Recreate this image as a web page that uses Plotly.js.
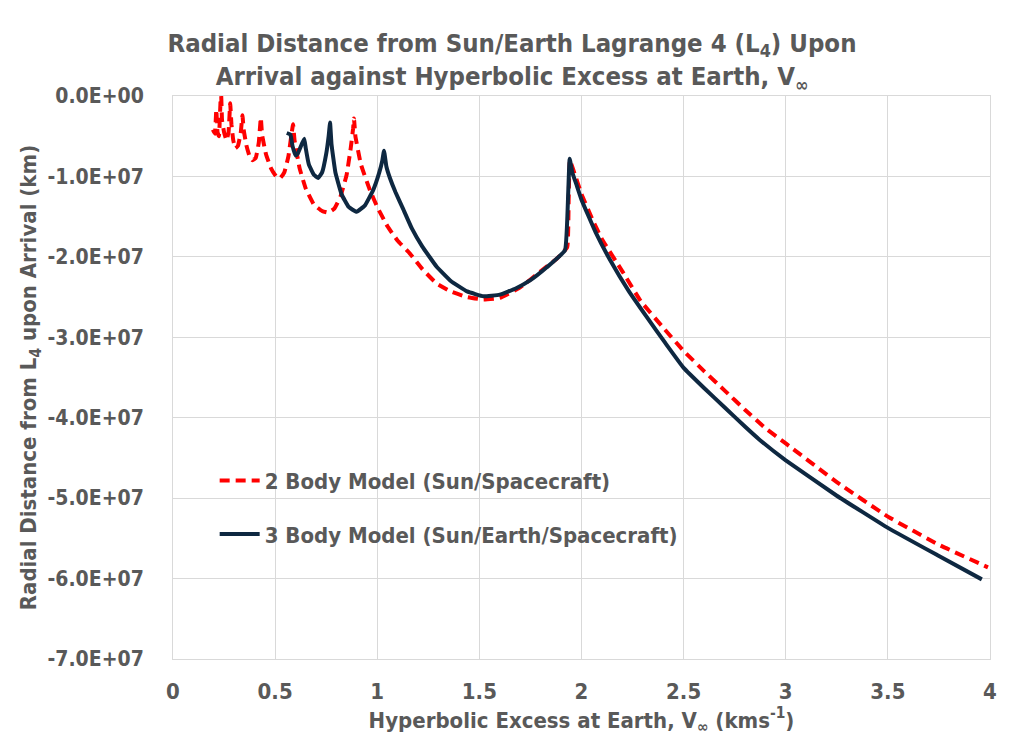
<!DOCTYPE html>
<html>
<head>
<meta charset="utf-8">
<script src="https://cdn.plot.ly/plotly-3.0.1.min.js"></script>
<style>
  body { margin: 0; background: #fff; }
  #chart { width: 1024px; height: 743px; outline: 1px solid #d9d9d9; outline-offset: -1px; }
</style>
</head>
<body>
<div id="chart"></div>
<script>
// 2 body model (Sun/Spacecraft) - V_inf (km/s) vs radial distance from L4 (km)
var vinf2 = [0.195, 0.205, 0.212, 0.218, 0.225, 0.233, 0.236, 0.240, 0.250, 0.262, 0.272, 0.280,
  0.286, 0.295, 0.305, 0.318, 0.332, 0.340, 0.346, 0.360, 0.375, 0.390, 0.405, 0.420, 0.430,
  0.436, 0.455, 0.480, 0.505, 0.525, 0.545, 0.565, 0.580, 0.588, 0.595, 0.620, 0.650, 0.690,
  0.730, 0.760, 0.790, 0.820, 0.850, 0.870, 0.882, 0.886, 0.893, 0.920, 0.964, 1.000, 1.050,
  1.100, 1.160, 1.220, 1.290, 1.360, 1.440, 1.520, 1.600, 1.700, 1.800, 1.880, 1.930, 1.937,
  1.943, 1.960, 2.000, 2.056, 2.100, 2.200, 2.290, 2.400, 2.500, 2.600, 2.700, 2.800, 2.900,
  3.000, 3.250, 3.500, 3.750, 3.990];
var dist2 = [-0.42e7, -0.47e7, -0.17e7, -0.45e7, -0.50e7, -0.05e7, 0.0, -0.30e7, -0.45e7, -0.55e7, -0.45e7, -0.09e7,
  -0.35e7, -0.55e7, -0.65e7, -0.62e7, -0.45e7, -0.24e7, -0.42e7, -0.62e7, -0.75e7, -0.80e7, -0.77e7, -0.58e7, -0.27e7,
  -0.48e7, -0.72e7, -0.90e7, -1.00e7, -1.02e7, -0.95e7, -0.75e7, -0.48e7, -0.35e7, -0.55e7, -0.90e7, -1.15e7, -1.35e7,
  -1.43e7, -1.45e7, -1.40e7, -1.25e7, -0.98e7, -0.65e7, -0.40e7, -0.28e7, -0.50e7, -0.85e7, -1.17e7, -1.38e7, -1.62e7,
  -1.80e7, -1.96e7, -2.15e7, -2.33e7, -2.43e7, -2.50e7, -2.53e7, -2.51e7, -2.38e7, -2.18e7, -2.02e7, -1.88e7, -1.30e7,
  -0.80e7, -0.92e7, -1.22e7, -1.55e7, -1.78e7, -2.18e7, -2.55e7, -2.88e7, -3.17e7, -3.42e7, -3.66e7, -3.90e7, -4.13e7,
  -4.32e7, -4.80e7, -5.23e7, -5.58e7, -5.86e7];

// 3 body model (Sun/Earth/Spacecraft)
var vinf3 = [0.557, 0.575, 0.585, 0.600, 0.610, 0.630, 0.643, 0.650, 0.665, 0.690, 0.711, 0.730,
  0.750, 0.762, 0.769, 0.776, 0.795, 0.825, 0.860, 0.899, 0.940, 0.980, 1.010, 1.025, 1.033,
  1.045, 1.062, 1.090, 1.126, 1.170, 1.220, 1.290, 1.360, 1.440, 1.520, 1.600, 1.680, 1.750,
  1.830, 1.919, 1.935, 1.942, 1.955, 1.975, 2.000, 2.070, 2.140, 2.230, 2.320, 2.410, 2.500,
  2.600, 2.700, 2.800, 2.870, 3.000, 3.250, 3.500, 3.750, 3.960];
var dist3 = [-0.46e7, -0.48e7, -0.62e7, -0.74e7, -0.72e7, -0.60e7, -0.53e7, -0.65e7, -0.85e7, -0.98e7, -1.02e7, -0.95e7,
  -0.72e7, -0.50e7, -0.33e7, -0.60e7, -0.95e7, -1.22e7, -1.38e7, -1.44e7, -1.36e7, -1.17e7, -0.95e7, -0.80e7, -0.68e7,
  -0.88e7, -1.02e7, -1.20e7, -1.40e7, -1.65e7, -1.87e7, -2.12e7, -2.30e7, -2.43e7, -2.49e7, -2.47e7, -2.39e7, -2.29e7,
  -2.13e7, -1.92e7, -1.20e7, -0.78e7, -0.95e7, -1.10e7, -1.29e7, -1.70e7, -2.04e7, -2.42e7, -2.75e7, -3.07e7, -3.38e7,
  -3.63e7, -3.87e7, -4.11e7, -4.27e7, -4.53e7, -4.97e7, -5.37e7, -5.72e7, -6.01e7];

var xTicks = [0, 0.5, 1, 1.5, 2, 2.5, 3, 3.5, 4];
var xTickText = ['0', '0.5', '1', '1.5', '2', '2.5', '3', '3.5', '4'];
var yTicks = [0, -1e7, -2e7, -3e7, -4e7, -5e7, -6e7, -7e7];
var yTickText = ['0.0E+00', '-1.0E+07', '-2.0E+07', '-3.0E+07', '-4.0E+07', '-5.0E+07', '-6.0E+07', '-7.0E+07'];

var FONT = '"Liberation Sans Narrow", "DejaVu Sans Condensed", Roboto, sans-serif';
var GREY = '#595959';

var twoBody = {
  type: 'scatter', mode: 'lines',
  x: vinf2, y: dist2,
  name: '<b>2 Body Model (Sun/Spacecraft)</b>',
  legendgroup: 'a',
  line: { color: '#ff0000', width: 4, dash: '10px,6px', shape: 'spline', smoothing: 0.3 }
};
var threeBody = {
  type: 'scatter', mode: 'lines',
  x: vinf3, y: dist3,
  name: '<b>3 Body Model (Sun/Earth/Spacecraft)</b>',
  legendgroup: 'b',
  line: { color: '#0e2841', width: 4, shape: 'spline', smoothing: 0.3 }
};

var layout = {
  width: 1024,
  height: 743,
  margin: { l: 173, r: 34, t: 96, b: 84 },
  paper_bgcolor: '#fff',
  plot_bgcolor: '#fff',
  font: { family: FONT, color: GREY, size: 20 },
  title: {
    text: '<b>Radial Distance from Sun/Earth Lagrange 4 (L<sub>4</sub>) Upon<br>Arrival against Hyperbolic Excess at Earth, V<sub>∞</sub></b>',
    font: { family: FONT, size: 25.5, color: GREY },
    x: 0.5, xref: 'container',
    yref: 'container', y: 0.93, yanchor: 'middle'
  },
  xaxis: {
    range: [0, 4],
    tickvals: xTicks,
    ticktext: xTickText.map(function (t) { return '<b>' + t + '</b>'; }),
    showgrid: true, gridcolor: '#d9d9d9', gridwidth: 1,
    zeroline: false,
    showline: true, mirror: true, linecolor: '#d9d9d9', linewidth: 1,
    ticks: '', ticklabelstandoff: 13,
    tickfont: { size: 22, color: GREY },
    title: {
      text: '<b>Hyperbolic Excess at Earth, V<sub>∞</sub> (kms<sup>-1</sup>)</b>',
      font: { size: 22, color: GREY },
      standoff: 4
    }
  },
  yaxis: {
    range: [-7e7, 0],
    tickvals: yTicks,
    ticktext: yTickText.map(function (t) { return '<b>' + t + '</b>'; }),
    showgrid: true, gridcolor: '#d9d9d9', gridwidth: 1,
    zeroline: false,
    showline: true, mirror: true, linecolor: '#d9d9d9', linewidth: 1,
    ticks: '', ticklabelstandoff: 24,
    tickfont: { size: 21, color: GREY },
    title: {
      text: '<b>Radial Distance from L<sub>4</sub> upon Arrival (km)</b>',
      font: { size: 22, color: GREY },
      standoff: 4
    }
  },
  showlegend: true,
  legend: {
    x: 0.051, y: 0.354, xanchor: 'left', yanchor: 'top',
    bgcolor: 'rgba(0,0,0,0)',
    traceorder: 'grouped',
    tracegroupgap: 22,
    font: { size: 22, color: GREY },
    itemwidth: 40
  }
};

Plotly.newPlot('chart', [twoBody, threeBody], layout, { displayModeBar: false, staticPlot: true });
</script>
</body>
</html>
